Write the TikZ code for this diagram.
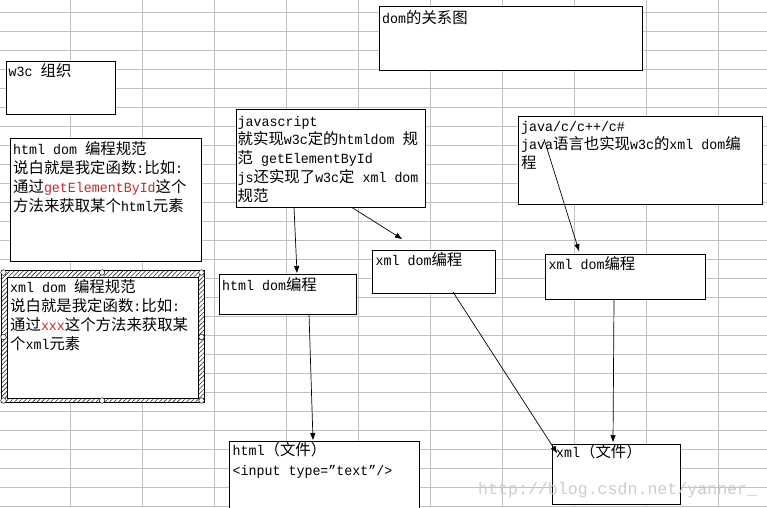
\documentclass[tikz,border=0pt]{standalone}
\usepackage{fontspec}
\setmainfont{Liberation Mono}[FakeStretch=0.95]
\newfontfamily\zhfont{Noto Sans CJK SC}[Scale=1.1]
\newfontfamily\wmfont{Liberation Mono}
\newcommand\zh[1]{{\zhfont #1}}
\newcommand\fstrut{\rule{0pt}{14pt}}
\usetikzlibrary{patterns.meta,arrows.meta}
\definecolor{gridc}{RGB}{192,192,192}
\definecolor{redt}{RGB}{200,40,40}
\definecolor{wmc}{RGB}{205,205,205}
\begin{document}
\begin{tikzpicture}[x=1pt,y=-1pt,
  box/.style={draw=black, line width=1pt, fill=white, inner sep=0pt, anchor=north west},
  txt/.style={anchor=north west, inner sep=0pt, align=left, font=\fontsize{14}{19}\selectfont},
  arr/.style={-{Triangle[length=7pt,width=5pt]}, line width=0.7pt},
  handle/.style={circle, draw=black, fill=white, line width=0.5pt, inner sep=0pt, minimum size=5.5pt}]
\useasboundingbox (0,0) rectangle (767,507);
\clip (0,0) rectangle (767,507);
\fill[white] (0,0) rectangle (767,507);
% spreadsheet grid
\foreach \k in {0,...,9} \draw[gridc, line width=0.9pt] ({70.5+72*\k},0) -- ({70.5+72*\k},507);
\foreach \k in {0,...,26} \draw[gridc, line width=0.9pt] (0,{12.3+19*\k}) -- (767,{12.3+19*\k});
% boxes
\node[box, minimum width=263pt, minimum height=64pt] (dombox) at (379,6) {};
\node[box, minimum width=109pt, minimum height=53pt] (w3cbox) at (6,61) {};
\node[box, minimum width=191pt, minimum height=123pt] (htmlspec) at (10,138) {};
% selected box with hatched frame
\fill[white] (1,270.5) rectangle (204,402);
\fill[pattern={Lines[angle=45,distance=3.2pt,line width=0.6pt]}, pattern color=black!85, even odd rule]
  (1,270.5) rectangle (204,402) (7,276.5) rectangle (198,398);
\draw[line width=0.4pt] (1,270.5) rectangle (204,402);
\node[box, minimum width=191pt, minimum height=121.5pt] (xmlspec) at (7,276.5) {};
\foreach \hx/\hy [count=\i] in {3.5/272.5,102/272.5,201.5/272.5,3.5/337,201.5/337,3.5/400.5,102/400.5,201.5/400.5}
  \node[handle] (h\i) at (\hx,\hy) {};
\node[box, minimum width=189pt, minimum height=98pt] (jsbox) at (236,109) {};
\node[box, minimum width=244pt, minimum height=88.5pt] (javabox) at (518,115.5) {};
\node[box, minimum width=160pt, minimum height=45pt] (xmldomR) at (545,253.5) {};
\node[box, minimum width=137pt, minimum height=40pt] (htmldom) at (219,274) {};
\node[box, minimum width=123pt, minimum height=43pt] (xmldomM) at (372,249.5) {};
\node[box, minimum width=190pt, minimum height=80pt] (htmlfile) at (229,441) {};
\node[box, minimum width=128pt, minimum height=60.5pt] (xmlfile) at (552,443.5) {};
% texts (position = first baseline - 14)
\node[txt] (domtxt) at (382,9) {\fstrut dom\zh{的关系图}};
\node[txt] (w3ctxt) at (8.5,62.5) {\fstrut w3c \zh{组织}};
\node[txt] (htmlspectxt) at (13,140) {\fstrut html dom \zh{编程规范}\\
  \zh{说白就是我定函数}:\zh{比如}:\\
  \zh{通过}\textcolor{redt}{getElementById}\zh{这个}\\
  \zh{方法来获取某个}html\zh{元素}};
\node[txt] (xmlspectxt) at (10,278) {\fstrut xml dom \zh{编程规范}\\
  \zh{说白就是我定函数}:\zh{比如}:\\
  \zh{通过}\textcolor{redt}{xxx}\zh{这个方法来获取某}\\
  \zh{个}xml\zh{元素}};
\node[txt, font=\fontsize{14}{18.75}\selectfont] (jstxt) at (237.5,112) {\fstrut javascript\\
  \zh{就实现}w3c\zh{定的}htmldom \zh{规}\\
  \zh{范} getElementById\\
  js\zh{还实现了}w3c\zh{定} xml dom\\
  \zh{规范}};
\node[txt, font=\fontsize{14}{18.5}\selectfont] (javatxt) at (521,117) {\fstrut java/c/c++/c\#\\
  java\zh{语言也实现}w3c\zh{的}xml dom\zh{编}\\
  \zh{程}};
\node[txt] (xmldomRtxt) at (548.5,255.5) {\fstrut xml dom\zh{编程}};
\node[txt] (htmldomtxt) at (222,276) {\fstrut html dom\zh{编程}};
\node[txt] (xmldomMtxt) at (375.5,251) {\fstrut xml dom\zh{编程}};
\node[txt, font=\fontsize{14}{20}\selectfont] (htmlfiletxt) at (232.5,441.5) {\fstrut html\zh{（文件）}\\
  <input type="text"/>};
\node[txt] (xmlfiletxt) at (556,443.5) {\fstrut xml\zh{（文件）}};
% connectors
\coordinate (a1) at (294,207.5); \coordinate (a2) at (297,273);
\coordinate (b1) at (352,207.5); \coordinate (b2) at (402,239);
\coordinate (c1) at (544,139);   \coordinate (c2) at (579,251);
\coordinate (d1) at (309,314);   \coordinate (d2) at (313,440);
\coordinate (e1) at (453,292);   \coordinate (e2) at (557,453);
\coordinate (f1) at (614,299);   \coordinate (f2) at (613,442);
\draw[arr] (a1) -- (a2);
\draw[arr] (b1) -- (b2);
\draw[arr] (c1) -- (c2);
\draw[arr] (d1) -- (d2);
\draw[arr] (e1) -- (e2);
\draw[arr] (f1) -- (f2);
% watermark
\node[anchor=base west, inner sep=0pt, text=wmc, font=\wmfont\fontsize{16.6}{20}\selectfont] (wm) at (478,494) {http://blog.csdn.net/yanner\_};
\end{tikzpicture}
\end{document}
